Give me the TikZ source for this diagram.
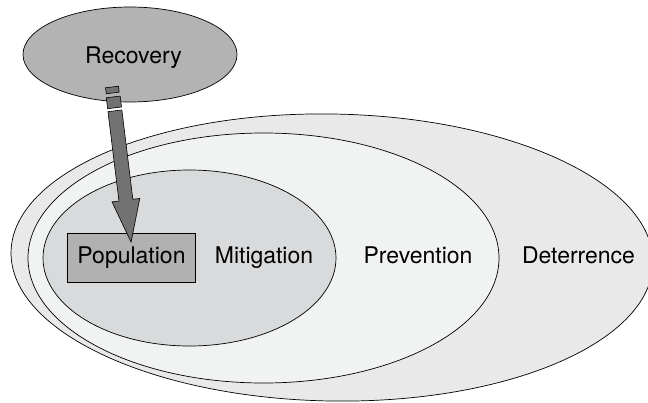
\documentclass[tikz,border=0pt]{standalone}
\usepackage{fontspec}
\setmainfont{TeX Gyre Heros}
\usetikzlibrary{shapes.geometric}
\definecolor{detfill}{HTML}{E9E9E9}
\definecolor{prevfill}{HTML}{F1F2F2}
\definecolor{mitfill}{HTML}{D9DADC}
\definecolor{recfill}{HTML}{B3B3B3}
\definecolor{popfill}{HTML}{B1B1B1}
\definecolor{arrfill}{HTML}{727272}
\begin{document}
\begin{tikzpicture}[x=1pt,y=-1pt,
  zone/.style={ellipse, draw=black, line width=0.7pt, inner sep=0pt},
  lbl/.style={anchor=base, font=\fontsize{23}{26}\selectfont, inner sep=0pt},
  popbox/.style={rectangle, draw=black, line width=0.7pt, fill=popfill,
    minimum width=128pt, minimum height=49pt, inner sep=0pt,
    font=\fontsize{23}{26}\selectfont},
  blockarrow/.style={draw=black, line width=0.6pt, fill=arrfill, line join=miter}]
\useasboundingbox (0,0) rectangle (648,402);
% nested zones
\node[zone, fill=detfill, minimum width=642pt, minimum height=287pt, rotate=-1] (det) at (332,257.5) {};
\node[zone, fill=prevfill, minimum width=471pt, minimum height=250pt] (prev) at (263.5,258) {};
\node[zone, fill=mitfill, minimum width=293pt, minimum height=176pt] (mit) at (189.5,258) {};
\node[zone, fill=recfill, minimum width=214pt, minimum height=95pt] (rec) at (130,54.5) {};
% labels
\node[lbl] (recl) at (133.5,63) {Recovery};
\node[lbl] (mitl) at (264,263) {Mitigation};
\node[lbl] (prevl) at (418,263) {Prevention};
\node[lbl] (detl) at (578.5,263) {Deterrence};
\node[popbox] (pop) at (131.5,257.5) {Population};
% block arrow from Recovery to Population
\coordinate (arrtail) at (112,87);
\coordinate (arrtip) at (131,242);
\begin{scope}[shift={(arrtail)}, rotate=-83, x=1pt, y=1pt]
  \draw[blockarrow] (0,-6.5) rectangle (6,6.5);
  \draw[blockarrow] (10,-7) rectangle (21,7);
  \draw[blockarrow] (24,-7) -- (114,-7) -- (114,-14) -- (156.2,0) -- (114,14) -- (114,7) -- (24,7) -- cycle;
\end{scope}
\end{tikzpicture}
\end{document}
